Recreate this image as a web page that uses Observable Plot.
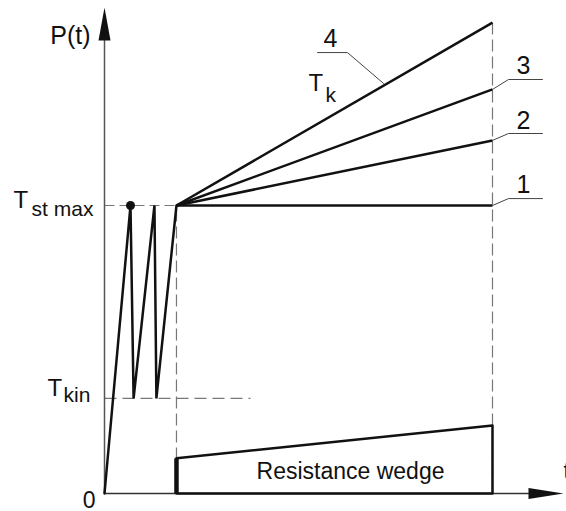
<!DOCTYPE html>
<html>
<head>
<meta charset="utf-8">
<script src="https://cdn.jsdelivr.net/npm/d3@7"></script>
<script src="https://cdn.jsdelivr.net/npm/@observablehq/plot@0.6"></script>
<style>
  html, body { margin: 0; padding: 0; background: #fff; }
  svg { display: block; }
</style>
</head>
<body>
<div id="chart"></div>
<script>
// ---- data (abstract time t, load P; T_st max = 1) ----
const tMax = 4.732;          // end of t axis (arrow tip)
const pMax = 1.6875;         // end of P axis (arrow tip)
const t1 = 0.742;            // start of resistance wedge
const tEnd = 4.0;            // end of loading
const tStMax = 1.0;          // T_st max
const tKin = 0.33;           // T_kin
const tKinDashEnd = 1.505;
const tEndDashTop = 1.653;

const zigT = [0, 0.268, 0.30, 0.515, 0.535, t1];
const zigP = [0, 1.0, tKin, 1.0, tKin, 1.0];

const curveLabels = ["1", "2", "3", "4"];
const curveEndP = [1.0, 1.226, 1.403, 1.635];

const leaderCurve = ["1", "1", "1", "2", "2", "2", "3", "3", "3", "4", "4", "4"];
const leaderT = [tEnd, 4.165, 4.515, tEnd, 4.165, 4.515, tEnd, 4.165, 4.515, 2.876, 2.505, 2.196];
const leaderP = [1.0, 1.024, 1.024, 1.226, 1.25, 1.25, 1.403, 1.4375, 1.4375, 1.424, 1.531, 1.531];
const labelT = [4.32, 4.32, 4.32, 2.33];
const labelP = [1.042, 1.267, 1.455, 1.552];

const wedgeT = [t1, tEnd, tEnd, t1];
const wedgeP = [0.122, 0.236, 0, 0];

const dotT = [0.268];
const dotP = [1.0];

// text annotations
const mainText = ["P(t)", "T", "T", "T", "0", "t", "Resistance wedge"];
const mainT = [-0.144, -0.938, -0.588, 2.103, -0.093, tMax, 2.536];
const mainP = [1.5625, 0.9896, 0.340, 1.396, -0.049, 0.052, 0.052];
const mainAnchor = ["end", "start", "start", "start", "end", "start", "middle"];
const mainSize = [25, 24, 24, 24, 23, 23, 23];
const subText = ["st max", "kin", "k"];
const subT = [-0.752, -0.423, 2.278];
const subP = [0.962, 0.316, 1.358];

// ---- tables built from the arrays ----
const zig = zigT.map((t, i) => ({t, p: zigP[i]}));
const curves = curveLabels.map((c, i) => ({c, p: curveEndP[i], lt: labelT[i], lp: labelP[i]}));
const leaders = leaderT.map((t, i) => ({c: leaderCurve[i], t, p: leaderP[i]}));
const wedge = wedgeT.map((t, i) => ({t, p: wedgeP[i]}));
const texts = mainText.map((s, i) => ({s, t: mainT[i], p: mainP[i], a: mainAnchor[i], f: mainSize[i]}));
const subs = subText.map((s, i) => ({s, t: subT[i], p: subP[i]}));

const arrowUp = {draw(ctx) { ctx.moveTo(0, 0); ctx.lineTo(6, 33); ctx.lineTo(-6, 33); ctx.closePath(); }};
const arrowRight = {draw(ctx) { ctx.moveTo(0, 0); ctx.lineTo(-35, -5.5); ctx.lineTo(-35, 5.5); ctx.closePath(); }};

const ink = "#111";
const textInk = "#111";
const font = "'Liberation Sans', Arial, Helvetica, sans-serif";

const textMark = (anchor) => Plot.text(texts.filter(d => d.a === anchor),
  {x: "t", y: "p", text: "s", fontSize: "f", textAnchor: anchor, fill: textInk, lineAnchor: "bottom"});

const chart = Plot.plot({
  width: 566,
  height: 511,
  x: {domain: [0, tMax], range: [104, 563]},
  y: {domain: [0, pMax], range: [493, 7]},
  axis: null,
  style: {fontFamily: font, background: "#fff"},
  marks: [
    // dashed guides
    Plot.link([0], {x1: 0, x2: t1, y1: tStMax, y2: tStMax, stroke: "#777", strokeWidth: 1.2, strokeDasharray: "10,5"}),
    Plot.link([0], {x1: 0, x2: tKinDashEnd, y1: tKin, y2: tKin, stroke: "#777", strokeWidth: 1.2, strokeDasharray: "12,6"}),
    Plot.link([0], {x1: t1, x2: t1, y1: 0, y2: tStMax, stroke: "#777", strokeWidth: 1.2, strokeDasharray: "12,5"}),
    Plot.link([0], {x1: tEnd, x2: tEnd, y1: 0, y2: tEndDashTop, stroke: "#777", strokeWidth: 1.2, strokeDasharray: "12,5"}),
    // axes
    Plot.link([0], {x1: 0, x2: 0, y1: 0, y2: pMax - 0.05, stroke: "#555", strokeWidth: 1.5}),
    Plot.link([0], {x1: 0, x2: tMax - 0.2, y1: 0, y2: 0, stroke: "#333", strokeWidth: 1.5}),
    Plot.dot([0], {x: 0, y: pMax, symbol: arrowUp, fill: ink, stroke: "none"}),
    Plot.dot([0], {x: tMax, y: 0, symbol: arrowRight, fill: ink, stroke: "none"}),
    // loading zigzag
    Plot.line(zig, {x: "t", y: "p", stroke: ink, strokeWidth: 2.5, strokeLinejoin: "miter"}),
    Plot.dot(dotT.map((t, i) => ({t, p: dotP[i]})), {x: "t", y: "p", r: 4.5, fill: ink, stroke: "none"}),
    // curves 1-4
    Plot.link(curves, {x1: t1, y1: tStMax, x2: tEnd, y2: "p", stroke: ink, strokeWidth: 2.5}),
    // leader lines and numbers
    Plot.line(leaders, {x: "t", y: "p", z: "c", stroke: "#444", strokeWidth: 1}),
    Plot.text(curves, {x: "lt", y: "lp", text: "c", fontSize: 25, fill: textInk, textAnchor: "middle", lineAnchor: "bottom"}),
    // resistance wedge
    Plot.line(wedge, {x: "t", y: "p", stroke: ink, strokeWidth: 2.5}),
    Plot.link([0], {x1: t1, x2: t1, y1: 0, y2: wedgeP[0], stroke: ink, strokeWidth: 4.5}),
    // text
    textMark("start"),
    textMark("end"),
    textMark("middle"),
    Plot.text(subs, {x: "t", y: "p", text: "s", fontSize: 21, textAnchor: "start", fill: textInk, lineAnchor: "bottom"})
  ]
});
document.getElementById("chart").append(chart);
</script>
</body>
</html>
